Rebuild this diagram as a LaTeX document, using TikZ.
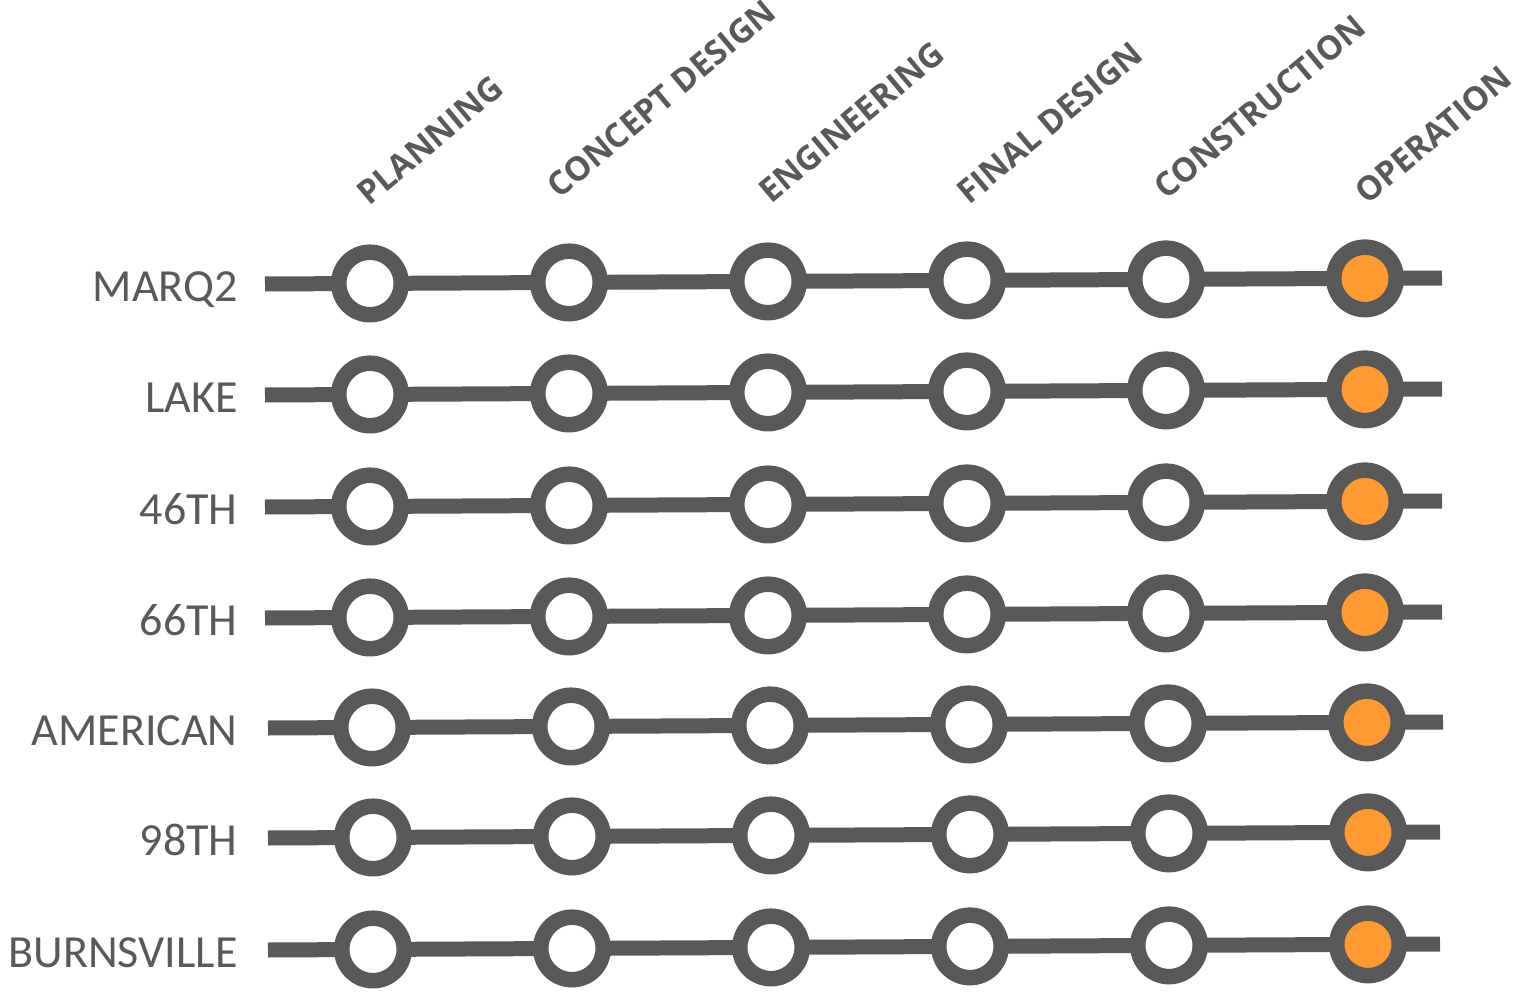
\documentclass[tikz,border=0pt]{standalone}
\usepackage{fontspec}
\setmainfont{Carlito}
\newfontfamily\headfont{Open Sans}
\usetikzlibrary{backgrounds}
\definecolor{ink}{HTML}{595959}
\definecolor{accent}{HTML}{FF9A33}
\tikzset{
  stop/.style={circle, draw=ink, line width=7.75pt, fill=white, minimum size=31.25pt, inner sep=0pt},
  endstop/.style={stop, fill=accent},
  track/.style={draw=ink, line width=7.5pt},
  rowlabel/.style={anchor=base east, text=ink, font=\fontsize{23}{23}\selectfont, inner sep=0pt},
  phase/.style={anchor=base west, rotate=40, text=ink, font=\headfont\bfseries\fontsize{16.6}{16.6}\selectfont, inner sep=0pt}
}
\begin{document}
\begin{tikzpicture}[x=0.5pt, y=-0.5pt]
\useasboundingbox (0,0) rectangle (1527,995);
% phase headers
\node[phase] (h1) at (369,207) {PLANNING};
\node[phase] (h2) at (559,200) {CONCEPT DESIGN};
\node[phase] (h3) at (771,205) {ENGINEERING};
\node[phase] (h4) at (969,206) {FINAL DESIGN};
\node[phase] (h5) at (1166,201) {CONSTRUCTION};
\node[phase] (h6) at (1367,206) {OPERATION};
% rows
\foreach \r/\lab/\xl/\yl/\xr/\yr/\dx in {
  1/MARQ2/265/284/1442/278/0,
  2/LAKE/265/395/1442/389/0,
  3/46TH/265/507/1442/501/0,
  4/66TH/265/618/1442/612/0,
  5/AMERICAN/268/728/1443/722/2,
  6/98TH/268/838/1440/832/3,
  7/BURNSVILLE/268/950/1440/944/3}{
  \node[rowlabel] (lab\r) at (238,\yl+17) {\lab};
  \coordinate (L\r) at (\xl,\yl);
  \coordinate (R\r) at (\xr,\yr);
  \foreach \i in {1,...,6}{
    \pgfmathsetmacro{\cx}{370+199*(\i-1)+\dx}
    \pgfmathsetmacro{\cy}{\yl+(\cx-\xl)/(\xr-\xl)*(\yr-\yl)}
    \ifnum\i=6
      \node[endstop] (n\r-\i) at (\cx,\cy) {};
    \else
      \node[stop] (n\r-\i) at (\cx,\cy) {};
    \fi
  }
  \begin{pgfonlayer}{background}
    \draw[track] (L\r) -- (n\r-1.center) -- (n\r-2.center) -- (n\r-3.center) -- (n\r-4.center) -- (n\r-5.center) -- (n\r-6.center) -- (R\r);
  \end{pgfonlayer}
}
\end{tikzpicture}
\end{document}
